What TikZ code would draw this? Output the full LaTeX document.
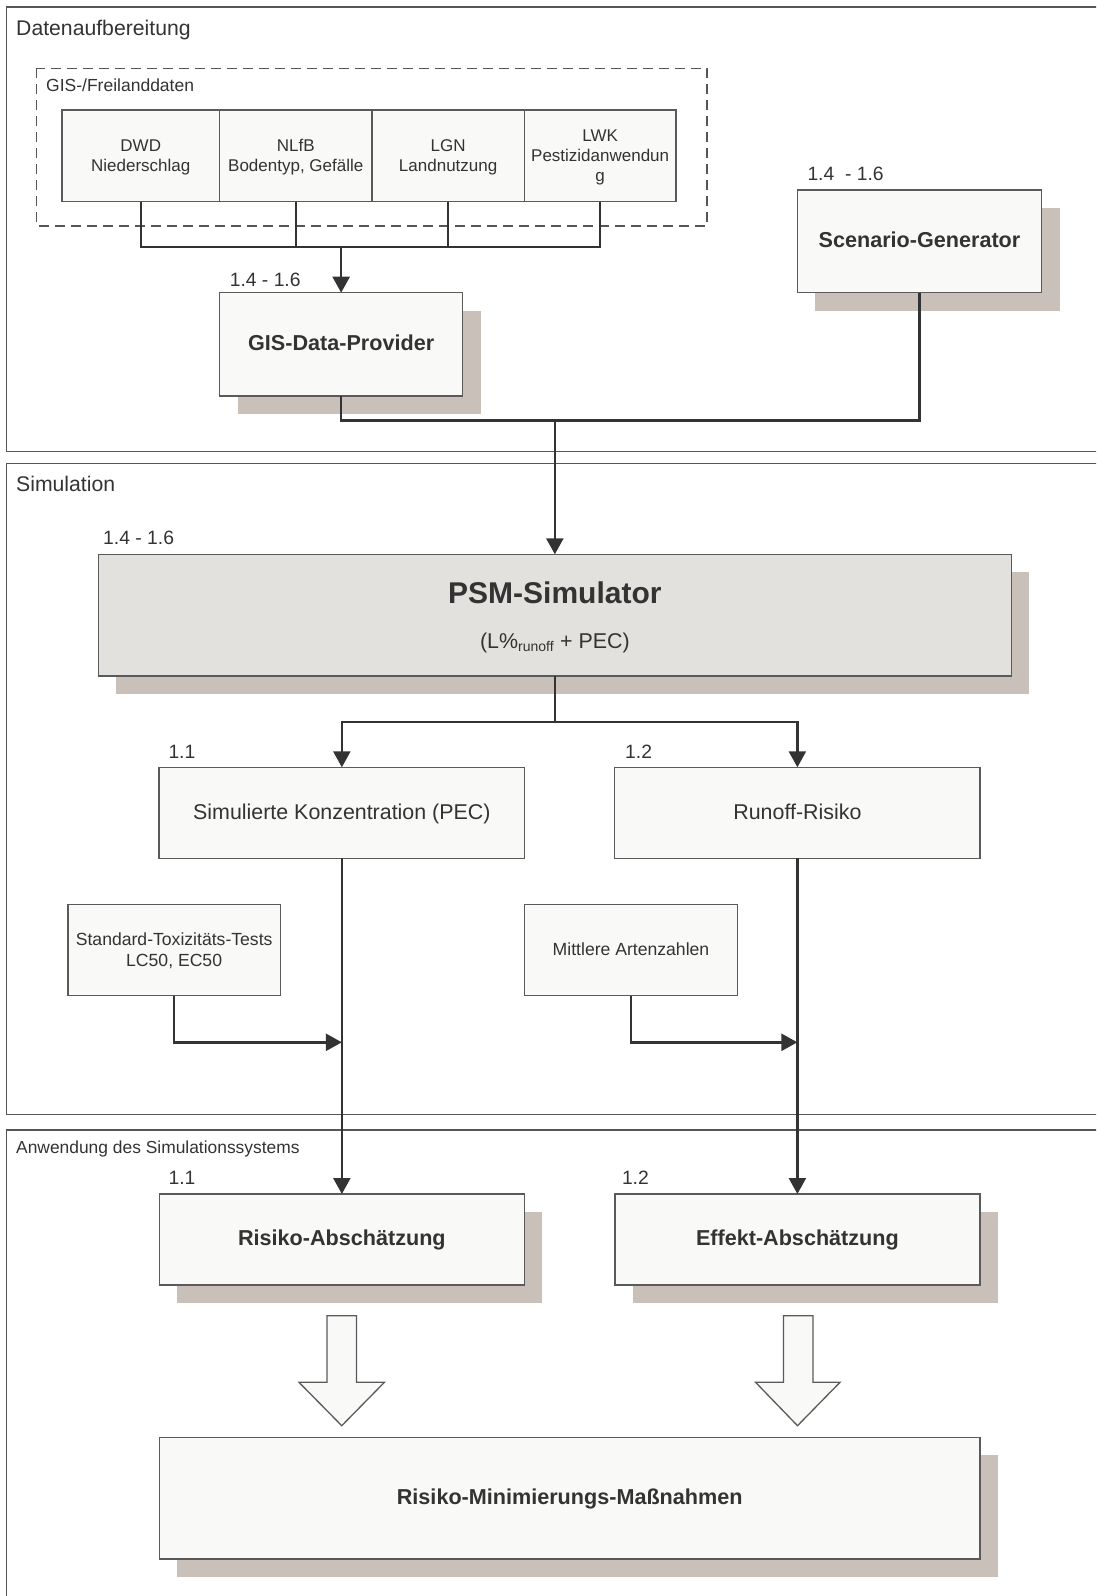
\documentclass[tikz,border=0pt]{standalone}
\usepackage{fontspec}
\setmainfont{Liberation Sans}
\usetikzlibrary{arrows.meta,shadows}
\definecolor{tc}{HTML}{333333}
\definecolor{bc}{HTML}{5A5A5A}
\definecolor{bf}{HTML}{F9F9F7}
\definecolor{sc}{HTML}{C9C0BA}
\definecolor{pf}{HTML}{E3E1DD}
\definecolor{lc}{HTML}{333333}
\definecolor{fc}{HTML}{555555}
\begin{document}
\begin{tikzpicture}[x=1pt,y=-1pt,
  box/.style={draw=bc,line width=1.3pt,fill=bf,inner sep=0pt,outer sep=0pt,align=center,text=tc},
  shbox/.style={box,drop shadow={shadow xshift=18pt,shadow yshift=-18pt,fill=sc,opacity=1}},
  conn/.style={draw=lc,line width=2.4pt},
  arr/.style={conn,-{Triangle[length=16pt,width=17pt]}},
  frame/.style={draw=fc,line width=1.3pt},
  lbl/.style={anchor=base west,text=tc,inner sep=0pt,font=\fontsize{19.3}{22}\selectfont},
  ttl/.style={anchor=base west,text=tc,inner sep=0pt,font=\fontsize{21.2}{24}\selectfont},
  small/.style={font=\fontsize{17}{20}\selectfont},
  one/.style={text height=17pt,text depth=4.5pt},
  onesm/.style={text height=14pt,text depth=3.7pt},
  mid/.style={font=\fontsize{21.4}{25}\selectfont},
  bld/.style={font=\fontsize{21.6}{25}\selectfont\bfseries},
  blockarrow/.style={draw=bc,line width=1.3pt,fill=bf,line join=miter}
]
\useasboundingbox (0,0) rectangle (1096,1596);
\clip (0,0) rectangle (1096,1596);

% frames
\draw[frame] (1110,7) -- (6.5,7) -- (6.5,451.7) -- (1110,451.7);
\draw[frame] (1110,463.3) -- (6.5,463.3) -- (6.5,1114.3) -- (1110,1114.3);
\draw[frame] (1110,1130) -- (6.5,1130) -- (6.5,1610);
\node[ttl] (t1) at (16,35) {Datenaufbereitung};
\node[ttl] (t2) at (16,491) {Simulation};
\node[ttl,font=\fontsize{17.4}{20}\selectfont] (t3) at (16,1153.3) {Anwendung des Simulationssystems};

% GIS group
\draw[draw=fc,line width=1.3pt,dash pattern=on 10pt off 6pt] (36.7,68.3) rectangle (707,226);
\node[anchor=base west,text=tc,inner sep=0pt,font=\fontsize{17.5}{20}\selectfont] (gl) at (46,91.7) {GIS-/Freilanddaten};

\node[box,minimum width=157.5pt,minimum height=91.7pt] (dwd) at (140.75,155.85) {};
\node[box,minimum width=152.5pt,minimum height=91.7pt] (nlfb) at (295.75,155.85) {};
\node[box,minimum width=152.3pt,minimum height=91.7pt] (lgn) at (448.15,155.85) {};
\node[box,minimum width=151.7pt,minimum height=91.7pt] (lwk) at (600.15,155.85) {};
\node[small,align=center,text=tc,inner sep=0pt] (dwdtx) at (140.75,157.6) {DWD\\Niederschlag};
\node[small,align=center,text=tc,inner sep=0pt] (nlfbtx) at (295.75,157.6) {NLfB\\Bodentyp, Gefälle};
\node[small,align=center,text=tc,inner sep=0pt] (lgntx) at (448.15,157.6) {LGN\\Landnutzung};
\node[small,align=center,text=tc,inner sep=0pt] (lwktx) at (600.15,157.6) {LWK\\Pestizidanwendun\\g};

% GIS-Data-Provider & Scenario-Generator
\node[shbox,bld,one,minimum width=243.3pt,minimum height=103.3pt] (gdp) at (341.15,344.35) {GIS-Data-Provider};
\node[lbl] (l1) at (229.6,286.7) {1.4 - 1.6};
\node[shbox,bld,one,minimum width=244.4pt,minimum height=102.7pt] (sg) at (919.5,241.35) {Scenario-Generator};
\node[lbl] (l2) at (807.3,180) {1.4\ \ - 1.6};

\coordinate (bar) at (341.15,246.7);
\draw[conn] (dwd.south) |- (bar);
\draw[conn] (lwk.south) |- (bar);
\draw[conn] (nlfb.south) -- (nlfb.south |- bar);
\draw[conn] (lgn.south) -- (lgn.south |- bar);
\draw[arr] (bar) -- (gdp.north);

% PSM
\node[shbox,fill=pf,minimum width=913.1pt,minimum height=121.7pt] (psm) at (554.85,615.15) {};
\node[anchor=base,inner sep=0pt,text=tc,font=\fontsize{30}{32}\selectfont\bfseries] (psmt) at (554.85,603.8) {PSM-Simulator};
\node[anchor=base,inner sep=0pt,text=tc,mid] (psms) at (554.85,648.3) {(L\%\textsubscript{\fontsize{14}{16}\selectfont runoff} + PEC)};
\node[lbl] (l3) at (103,544) {1.4 - 1.6};

\coordinate (j1) at (554.85,420.5);
\draw[conn] (gdp.south) |- (j1);
\draw[conn] (sg.south) |- (j1);
\draw[arr] (j1) -- (psm.north);

% Simulation boxes
\node[box,mid,one,minimum width=365.7pt,minimum height=91pt] (konz) at (341.85,812.8) {Simulierte Konzentration (PEC)};
\node[box,mid,one,minimum width=365.2pt,minimum height=91pt] (run) at (797.4,812.8) {Runoff-Risiko};
\node[lbl] (l4) at (168.3,758.3) {1.1};
\node[lbl] (l5) at (625,758.3) {1.2};

\coordinate (j2) at (554.85,721.7);
\draw[conn] (psm.south) -- (j2);
\draw[arr] (j2) -| (konz.north);
\draw[arr] (j2) -| (run.north);

\node[box,minimum width=212.3pt,minimum height=91.4pt] (std) at (174.15,950) {};
\node[font=\fontsize{17.6}{20.7}\selectfont,align=center,text=tc,inner sep=0pt] (stdtx) at (174.15,951) {Standard-Toxizitäts-Tests\\LC50, EC50};
\node[box,font=\fontsize{17.6}{20.7}\selectfont,onesm,minimum width=212.8pt,minimum height=91.4pt] (mit) at (631,950) {Mittlere Artenzahlen};

% Anwendung boxes
\node[shbox,bld,one,minimum width=364.8pt,minimum height=91pt] (ris) at (341.85,1239.5) {Risiko-Abschätzung};
\node[shbox,bld,one,minimum width=365pt,minimum height=91pt] (eff) at (797.4,1239.5) {Effekt-Abschätzung};
\node[lbl] (l6) at (168.4,1184) {1.1};
\node[lbl] (l7) at (621.8,1184) {1.2};

\draw[arr] (konz.south) -- (ris.north);
\draw[arr] (run.south) -- (eff.north);
\coordinate (m1) at (341.85,1042.3);
\coordinate (m2) at (797.4,1042.3);
\draw[arr] (std.south) |- (m1);
\draw[arr] (mit.south) |- (m2);

% final
\node[shbox,bld,one,minimum width=820.6pt,minimum height=121.7pt] (fin) at (569.7,1498.15) {Risiko-Minimierungs-Maßnahmen};

% block arrows
\draw[blockarrow] (327,1315.7) -- (356.5,1315.7) -- (356.5,1382.3) -- (384.4,1382.3) -- (341.75,1425.7) -- (299,1382.3) -- (327,1382.3) -- cycle;
\draw[blockarrow] (783.5,1315.7) -- (812.9,1315.7) -- (812.9,1382.3) -- (840,1382.3) -- (797.5,1425.7) -- (755.6,1382.3) -- (783.5,1382.3) -- cycle;
\end{tikzpicture}
\end{document}
